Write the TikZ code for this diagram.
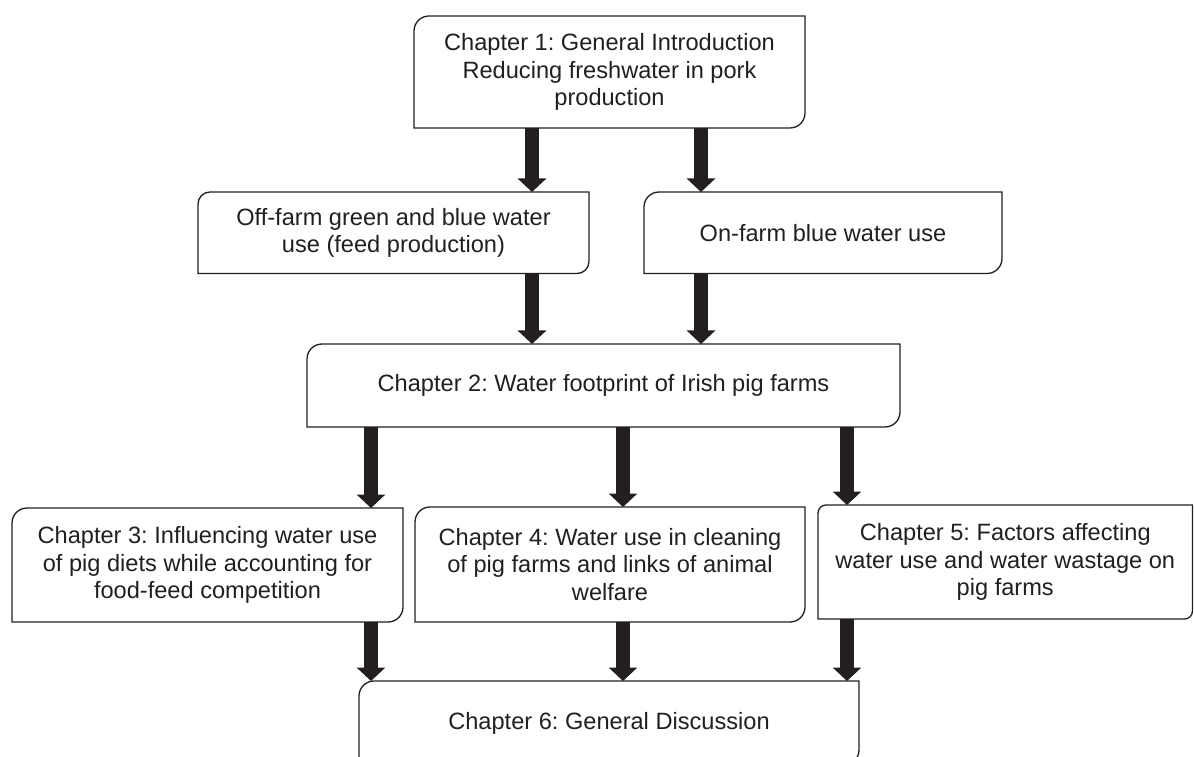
\documentclass[tikz,border=0pt]{standalone}
\usepackage{fontspec}
\setmainfont{Liberation Sans}
\usetikzlibrary{arrows.meta}
\definecolor{ink}{HTML}{231F20}
\newcommand\RDbox[2][15]{\draw[boxline] ([yshift=-#1pt]#2.north west) arc[start angle=180,end angle=90,radius=#1pt] -- (#2.north east) -- ([yshift=#1pt]#2.south east) arc[start angle=0,end angle=-90,radius=#1pt] -- (#2.south west) -- cycle;}
\frenchspacing
\begin{document}
\begin{tikzpicture}[x=1pt,y=1pt,
  chbox/.style={rectangle, inner sep=0pt, outer sep=0pt, align=center, text=ink, font=\fontsize{23.6}{27.5}\selectfont\frenchspacing},
  boxline/.style={draw=ink, line width=1.3pt},
  bigarrow/.style={draw=ink, line width=13.5pt, -{Triangle[length=13.5pt,width=28pt]}}]
\useasboundingbox (0,0) rectangle (1194,756);
\fill[white] (0,0) rectangle (1194,756);
\clip (0,0) rectangle (1194,756);

\node[chbox, minimum width=391pt, minimum height=112pt] (ch1) at (609.5,684) {Chapter 1: General Introduction\\Reducing freshwater in pork\\production};
\node[chbox, minimum width=391pt, minimum height=81.5pt] (off) at (393.5,523.25) {Off-farm green and blue water\\use (feed production)};
\node[chbox, minimum width=358pt, minimum height=81.5pt] (on) at (823,523.25) {On-farm blue water use};
\node[chbox, minimum width=593pt, minimum height=83pt] (ch2) at (603.5,370.5) {Chapter 2: Water footprint of Irish pig farms};
\node[chbox, minimum width=391pt, minimum height=114pt] (ch3) at (207.5,191) {Chapter 3: Influencing water use\\of pig diets while accounting for\\food-feed competition};
\node[chbox, minimum width=390pt, minimum height=115pt] (ch4) at (610,191.5) {Chapter 4: Water use in cleaning\\of pig farms and links of animal\\welfare};
\node[chbox, minimum width=374.5pt, minimum height=114pt] (ch5) at (1005.25,194) {Chapter 5: Factors affecting\\water use and water wastage on\\pig farms};
\node[chbox, minimum width=500pt, minimum height=84pt] (ch6) at (609,33) {Chapter 6: General Discussion};

\RDbox{ch1}
\RDbox[12]{off}
\RDbox{on}
\RDbox{ch2}
\RDbox{ch3}
\RDbox{ch4}
\RDbox[8]{ch5}
\RDbox{ch6}

\coordinate (xa) at (532,0);
\coordinate (xb) at (701,0);
\coordinate (xc) at (371,0);
\coordinate (xd) at (623,0);
\coordinate (xe) at (847,0);

\draw[bigarrow] (ch1.south -| xa) -- (off.north -| xa);
\draw[bigarrow] (ch1.south -| xb) -- (on.north -| xb);
\draw[bigarrow] (off.south -| xa) -- (ch2.north -| xa);
\draw[bigarrow] (on.south -| xb) -- (ch2.north -| xb);
\draw[bigarrow] (ch2.south -| xc) -- (ch3.north -| xc);
\draw[bigarrow] (ch2.south -| xd) -- (ch4.north -| xd);
\draw[bigarrow] (ch2.south -| xe) -- (ch5.north -| xe);
\draw[bigarrow] (ch3.south -| xc) -- (ch6.north -| xc);
\draw[bigarrow] (ch4.south -| xd) -- (ch6.north -| xd);
\draw[bigarrow] (ch5.south -| xe) -- (ch6.north -| xe);
\end{tikzpicture}
\end{document}
